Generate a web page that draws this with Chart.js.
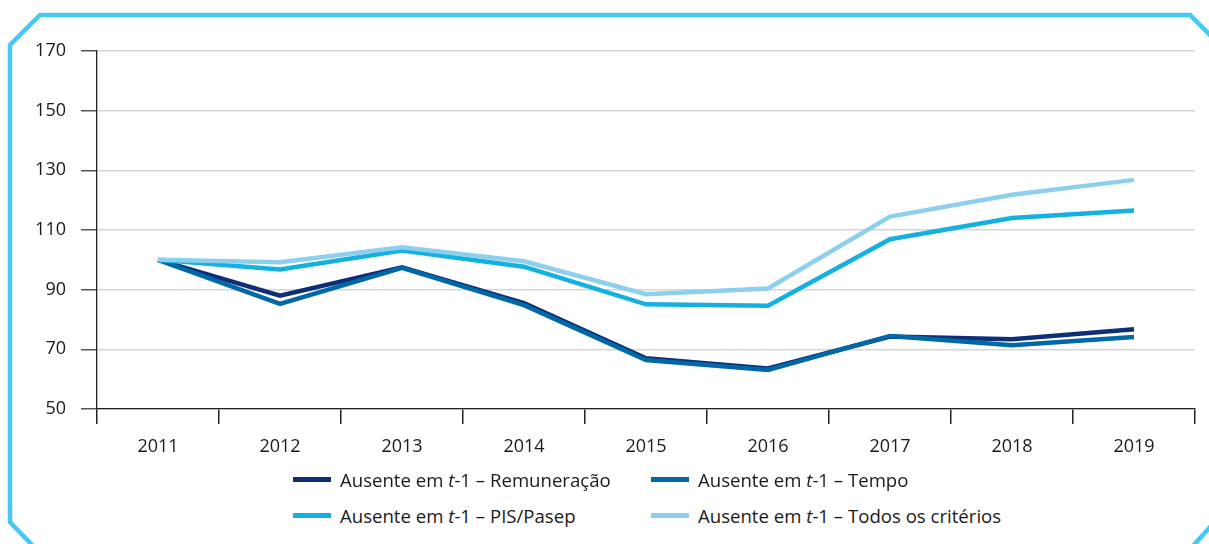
<!DOCTYPE html>
<html>
<head>
<meta charset="utf-8">
<script src="https://cdn.jsdelivr.net/npm/chart.js@4/dist/chart.umd.min.js"></script>
<style>
  html, body { margin: 0; padding: 0; background: #fff; }
  #wrap { position: relative; width: 1209px; height: 544px; overflow: hidden; font-family: "Open Sans", sans-serif; }
  #frame { position: absolute; left: 0; top: 0; }
  #cv { position: absolute; left: 0; top: 0; }
  .lg { position: absolute; display: flex; align-items: center; font-size: 18.6px; color: #1a1a1a; white-space: nowrap; }
  .sw { display: inline-block; width: 38px; height: 5px; margin-right: 9px; }
</style>
</head>
<body>
<div id="wrap">
  <svg id="frame" width="1209" height="544">
    <polyline points="33,546 10,522 10,45 40,15 1190,15 1211,36" fill="none" stroke="#45C8F2" stroke-width="4.5"/>
    <polyline points="1211,526 1193,546" fill="none" stroke="#45C8F2" stroke-width="4.5"/>
  </svg>
  <canvas id="cv" width="1209" height="470"></canvas>
  <div class="lg" style="left:293px; top:467px;"><span class="sw" style="background:#0E2F78"></span>Ausente em&nbsp;<i>t</i>-1 – Remuneração</div>
  <div class="lg" style="left:651px; top:467px;"><span class="sw" style="background:#0068A6"></span>Ausente em&nbsp;<i>t</i>-1 – Tempo</div>
  <div class="lg" style="left:293px; top:503px;"><span class="sw" style="background:#14B1E0"></span>Ausente em&nbsp;<i>t</i>-1 – PIS/Pasep</div>
  <div class="lg" style="left:651px; top:503px;"><span class="sw" style="background:#8DD0EE"></span>Ausente em&nbsp;<i>t</i>-1 – Todos os critérios</div>
</div>
<script>
const years = ["2011","2012","2013","2014","2015","2016","2017","2018","2019"];
const remuneracao = [100, 88, 97.5, 85.5, 67, 63.6, 74.3, 73.4, 76.7];
const tempo       = [100, 85.2, 97.3, 84.8, 66.4, 63.1, 74.5, 71.4, 74.1];
const pisPasep    = [100, 96.8, 103.1, 97.7, 85.1, 84.6, 106.9, 114, 116.5];
const todos       = [100, 99.2, 104.2, 99.5, 88.5, 90.4, 114.5, 121.8, 126.8];
const yTicks = [50, 70, 90, 110, 130, 150, 170];

const font = { family: "'Open Sans', sans-serif", size: 18 };

new Chart(document.getElementById('cv'), {
  type: 'line',
  data: {
    labels: years,
    datasets: [
      { label: 'Ausente em t-1 – Remuneração', data: remuneracao, borderColor: '#0E2F78', order: 3 },
      { label: 'Ausente em t-1 – Tempo', data: tempo, borderColor: '#0068A6', order: 2 },
      { label: 'Ausente em t-1 – PIS/Pasep', data: pisPasep, borderColor: '#14B1E0', order: 1 },
      { label: 'Ausente em t-1 – Todos os critérios', data: todos, borderColor: '#8DD0EE', order: 0 }
    ]
  },
  options: {
    responsive: false,
    animation: false,
    devicePixelRatio: 1,
    elements: {
      line: { borderWidth: 4.5, tension: 0, fill: false, borderCapStyle: 'butt', borderJoinStyle: 'miter' },
      point: { radius: 0, hoverRadius: 0 }
    },
    layout: { padding: { left: 0, top: 51, right: 14, bottom: 0 } },
    plugins: { legend: { display: false }, tooltip: { enabled: false } },
    scales: {
      x: {
        offset: true,
        afterFit: s => { s.height = 61; },
        grid: {
          offset: true,
          drawOnChartArea: true,
          color: ctx => ctx.index === years.length ? '#cfcfcf' : 'rgba(0,0,0,0)',
          lineWidth: 1.5,
          tickColor: '#222',
          tickLength: 15
        },
        border: { display: true, color: '#222', width: 1.3 },
        ticks: { color: '#1a1a1a', font: font, padding: 12, maxRotation: 0 }
      },
      y: {
        min: 50, max: 170,
        afterFit: s => { s.width = 97; },
        afterBuildTicks: s => { s.ticks = yTicks.map(v => ({ value: v })); },
        grid: { color: '#d6d6d6', lineWidth: 1.5, tickColor: '#555', tickLength: 16 },
        border: { display: true, color: '#222', width: 1.3 },
        ticks: { color: '#1a1a1a', font: font, padding: 15 }
      }
    }
  }
});
</script>
</body>
</html>
